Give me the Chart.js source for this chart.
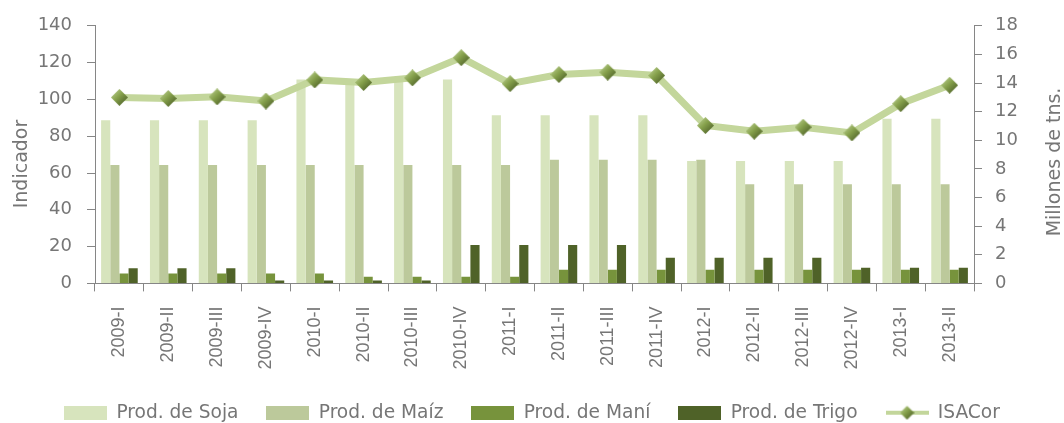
<!DOCTYPE html>
<html>
<head>
<meta charset="utf-8">
<script src="https://cdn.jsdelivr.net/npm/chart.js@4/dist/chart.umd.min.js"></script>
<style>
  html, body { margin: 0; padding: 0; background: #ffffff; }
  #wrap { width: 1064px; height: 423px; }
</style>
</head>
<body>
<div id="wrap"><canvas id="chart" width="1064" height="423"></canvas></div>
<script>
const quarters = ["2009-I", "2009-II", "2009-III", "2009-IV", "2010-I", "2010-II", "2010-III", "2010-IV",
  "2011-I", "2011-II", "2011-III", "2011-IV", "2012-I", "2012-II", "2012-III", "2012-IV", "2013-I", "2013-II"];

// millones de tns. (eje derecho)
const soja = [11.4, 11.4, 11.4, 11.4, 14.25, 14.25, 14.25, 14.25, 11.75, 11.75, 11.75, 11.75, 8.55, 8.55, 8.55, 8.55, 11.5, 11.5];
const maiz = [8.27, 8.27, 8.27, 8.27, 8.27, 8.27, 8.27, 8.27, 8.27, 8.64, 8.64, 8.64, 8.64, 6.93, 6.93, 6.93, 6.93, 6.93];
const mani = [0.69, 0.69, 0.69, 0.69, 0.69, 0.46, 0.46, 0.46, 0.46, 0.95, 0.95, 0.95, 0.95, 0.95, 0.95, 0.95, 0.95, 0.95];
const trigo = [1.06, 1.06, 1.06, 0.2, 0.2, 0.2, 0.2, 2.69, 2.69, 2.69, 2.69, 1.8, 1.8, 1.8, 1.8, 1.09, 1.09, 1.09];

// indicador (eje izquierdo)
const isacor = [101.1, 100.5, 101.4, 99.1, 110.6, 109.2, 111.7, 122.7, 108.6, 113.5, 114.8, 113.0, 85.8, 82.7, 84.9, 81.8, 97.7, 107.7];

const colors = {
  soja: "#d7e4bd",
  maiz: "#bcc99b",
  mani: "#77933c",
  trigo: "#4f6228",
  line: "#c3d69b",
  axis: "#868686",
  text: "#767676",
};

function makeDiamond(size) {
  const c = document.createElement("canvas");
  c.width = size;
  c.height = size;
  const ctx = c.getContext("2d");
  const h = size / 2;
  const grad = ctx.createLinearGradient(0, 0, size, size);
  grad.addColorStop(0, "#c6d99e");
  grad.addColorStop(0.45, "#86a14c");
  grad.addColorStop(1, "#3f4f1e");
  ctx.beginPath();
  ctx.moveTo(h, 0);
  ctx.lineTo(size, h);
  ctx.lineTo(h, size);
  ctx.lineTo(0, h);
  ctx.closePath();
  ctx.fillStyle = grad;
  ctx.fill();
  return c;
}

function makeBoxIcon(color) {
  const c = document.createElement("canvas");
  c.width = 43;
  c.height = 14;
  const ctx = c.getContext("2d");
  ctx.fillStyle = color;
  ctx.fillRect(0, 0, 43, 14);
  return c;
}

function makeLineIcon() {
  const c = document.createElement("canvas");
  c.width = 43;
  c.height = 16;
  const ctx = c.getContext("2d");
  ctx.strokeStyle = colors.line;
  ctx.lineWidth = 4;
  ctx.beginPath();
  ctx.moveTo(0, 8);
  ctx.lineTo(43, 8);
  ctx.stroke();
  ctx.drawImage(makeDiamond(14), 14.5, 1);
  return c;
}

const marker = makeDiamond(17);
const legendIcons = [
  makeBoxIcon(colors.soja),
  makeBoxIcon(colors.maiz),
  makeBoxIcon(colors.mani),
  makeBoxIcon(colors.trigo),
  makeLineIcon(),
];

const axisTitles = {
  id: "axisTitles",
  afterDraw(chart) {
    const ctx = chart.ctx;
    ctx.save();
    ctx.fillStyle = colors.text;
    ctx.font = "19px 'DejaVu Sans'";
    ctx.textAlign = "center";
    ctx.textBaseline = "alphabetic";
    ctx.translate(27, 164);
    ctx.rotate(-Math.PI / 2);
    ctx.fillText("Indicador", 0, 0);
    ctx.restore();

    ctx.save();
    ctx.fillStyle = colors.text;
    ctx.font = "19px 'DejaVu Sans'";
    ctx.textAlign = "center";
    ctx.textBaseline = "alphabetic";
    ctx.translate(1060, 162);
    ctx.rotate(-Math.PI / 2);
    ctx.fillText("Millones de tns.", 0, 0);
    ctx.restore();
  },
};

function barSet(label, data, color) {
  return {
    type: "bar",
    label: label,
    data: data,
    backgroundColor: color,
    borderWidth: 0,
    yAxisID: "y1",
    order: 1,
  };
}

new Chart(document.getElementById("chart"), {
  data: {
    labels: quarters,
    datasets: [
      barSet("Prod. de Soja", soja, colors.soja),
      barSet("Prod. de Maíz", maiz, colors.maiz),
      barSet("Prod. de Maní", mani, colors.mani),
      barSet("Prod. de Trigo", trigo, colors.trigo),
      {
        type: "line",
        label: "ISACor",
        data: isacor,
        borderColor: colors.line,
        borderWidth: 7,
        pointStyle: marker,
        pointRadius: 8,
        tension: 0,
        yAxisID: "y",
        order: 0,
      },
    ],
  },
  options: {
    responsive: false,
    animation: false,
    events: [],
    layout: { padding: { top: 24, bottom: -9, left: 0, right: 0 } },
    datasets: {
      bar: { categoryPercentage: 0.75, barPercentage: 1 },
    },
    scales: {
      x: {
        grid: { display: true, drawOnChartArea: false, drawTicks: true, tickLength: 8, color: colors.axis, offset: true },
        border: { display: true, color: colors.axis, width: 1 },
        ticks: {
          minRotation: 90,
          maxRotation: 90,
          autoSkip: false,
          padding: 15,
          color: colors.text,
          font: { family: "'Liberation Sans'", size: 18 },
        },
        afterFit(scale) { scale.height = 92; },
      },
      y: {
        position: "left",
        min: 0,
        max: 140,
        grid: { display: true, drawOnChartArea: false, drawTicks: true, tickLength: 8, color: colors.axis },
        border: { display: true, color: colors.axis, width: 1 },
        ticks: {
          stepSize: 20,
          padding: 15,
          color: colors.text,
          font: { family: "'DejaVu Sans'", size: 18 },
        },
        afterFit(scale) { scale.width = 95; },
      },
      y1: {
        position: "right",
        min: 0,
        max: 18,
        grid: { display: true, drawOnChartArea: false, drawTicks: true, tickLength: 8, color: colors.axis },
        border: { display: true, color: colors.axis, width: 1 },
        ticks: {
          stepSize: 2,
          padding: 13,
          color: colors.text,
          font: { family: "'DejaVu Sans'", size: 18 },
        },
        afterFit(scale) { scale.width = 90; },
      },
    },
    plugins: {
      tooltip: { enabled: false },
      legend: {
        position: "bottom",
        labels: {
          usePointStyle: true,
          pointStyleWidth: 43,
          boxHeight: 14,
          padding: 28,
          color: colors.text,
          font: { family: "'DejaVu Sans'", size: 18.6 },
          sort: (a, b) => a.datasetIndex - b.datasetIndex,
          generateLabels(chart) {
            const items = Chart.defaults.plugins.legend.labels.generateLabels(chart);
            return items.map((item) => ({ ...item, pointStyle: legendIcons[item.datasetIndex], lineWidth: 0 }));
          },
        },
      },
    },
  },
  plugins: [axisTitles],
});
</script>
</body>
</html>
